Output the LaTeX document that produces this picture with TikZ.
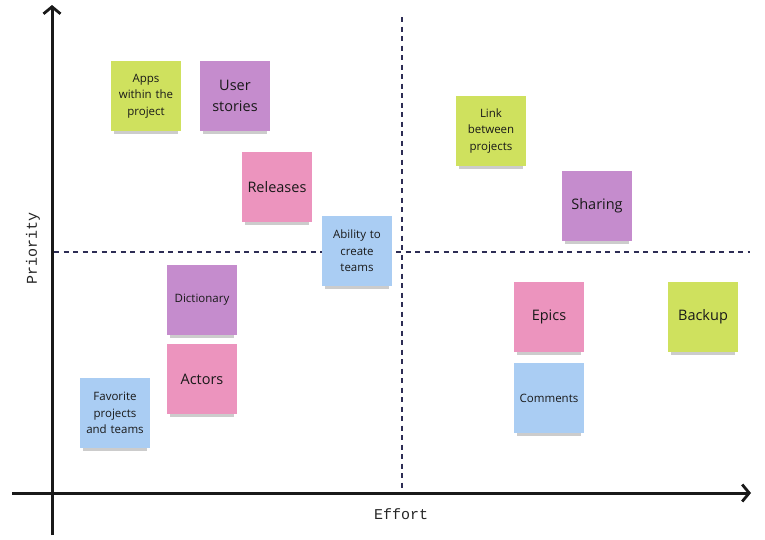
\documentclass[tikz,border=0pt]{standalone}
\usepackage{fontspec}
\setmainfont{Open Sans}
\setmonofont{Liberation Mono}
\usetikzlibrary{shadows,arrows.meta}

\definecolor{notegreen}{RGB}{207,225,94}
\definecolor{notepurple}{RGB}{197,140,205}
\definecolor{notepink}{RGB}{236,148,190}
\definecolor{noteblue}{RGB}{170,205,243}
\definecolor{gridnavy}{RGB}{45,45,85}

\begin{document}
\begin{tikzpicture}[x=1pt, y=-1pt,
    note/.style={minimum size=70pt, inner sep=2pt, text width=64pt, align=center,
        text=black!90, drop shadow={shadow xshift=0pt, shadow yshift=-6.5pt, shadow scale=0.92, opacity=0.4}},
    small/.style={font=\fontsize{11.5}{16.5}\selectfont},
    big/.style={font=\fontsize{14.5}{20.5}\selectfont},
    axis/.style={line width=3pt, black!90, -{Straight Barb[length=7pt,width=17pt,line width=2.8pt]}},
    split/.style={gridnavy, line width=1.3pt, dash pattern=on 5pt off 4.5pt}]
    \useasboundingbox (0,0) rectangle (765,539);

    % axes
    \coordinate (ybot) at (52,535);
    \coordinate (ytop) at (52,5);
    \coordinate (xleft) at (12,493);
    \coordinate (xright) at (751,493);
    \coordinate (vtop) at (402,17);
    \coordinate (vbot) at (402,490);
    \coordinate (hleft) at (54,252);
    \coordinate (hright) at (750,252);

    \draw[split] (vtop) -- (vbot);
    \draw[split] (hleft) -- (hright);
    \draw[axis] (ybot) -- (ytop);
    \draw[axis] (xleft) -- (xright);

    \node[font=\ttfamily\fontsize{15}{18}\selectfont, rotate=90, text=black!85] (priority) at (33,248) {Priority};
    \node[font=\ttfamily\fontsize{15}{18}\selectfont, text=black!85] (effort) at (401,514) {Effort};

    % high priority, low effort
    \node[note, small, fill=notegreen] (apps) at (146,96) {Apps\\within the\\project};
    \node[note, big, fill=notepurple] (stories) at (235,96) {User\\stories};
    \node[note, big, fill=notepink] (releases) at (277,187) {Releases};
    \node[note, small, fill=noteblue] (teams) at (357,251) {Ability to\\create\\teams};

    % low priority, low effort
    \node[note, small, fill=notepurple] (dictionary) at (202,300) {Dictionary};
    \node[note, big, fill=notepink] (actors) at (202,379) {Actors};
    \node[note, small, fill=noteblue] (favorite) at (115,413) {Favorite\\projects\\and teams};

    % high priority, high effort
    \node[note, small, fill=notegreen] (link) at (491,131) {Link\\between\\projects};
    \node[note, big, fill=notepurple] (sharing) at (597,206) {Sharing};

    % low priority, high effort
    \node[note, big, fill=notepink] (epics) at (549,317) {Epics};
    \node[note, big, fill=notegreen] (backup) at (703,317) {Backup};
    \node[note, small, fill=noteblue] (comments) at (549,398) {Comments};
\end{tikzpicture}
\end{document}
